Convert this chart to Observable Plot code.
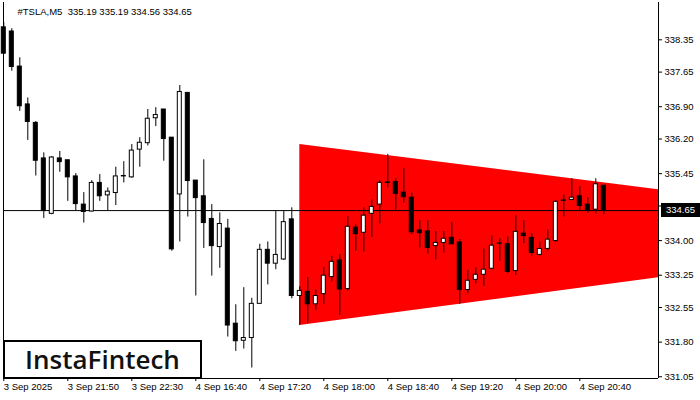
<!DOCTYPE html>
<html>
<head>
<meta charset="utf-8">
<script src="https://cdn.jsdelivr.net/npm/d3@7"></script>
<script src="https://cdn.jsdelivr.net/npm/@observablehq/plot@0.6"></script>
<style>
  html, body { margin: 0; padding: 0; background: white; }
  #wrap { position: relative; width: 700px; height: 400px; overflow: hidden; }
  #logo { position: absolute; left: 3px; top: 340px; width: 199px; height: 39px; box-sizing: border-box;
          border: 2px solid black; background: white; display: flex; align-items: center; justify-content: center;
          font: 600 26px "Open Sans", sans-serif; color: #111; padding-bottom: 2px; }
  #pricebox { position: absolute; left: 661px; width: 39px; height: 14px; background: black; color: white;
          font: 9.5px "Liberation Sans", sans-serif; line-height: 14px; text-align: center; }
</style>
</head>
<body>
<div id="wrap"></div>
<script>
const symbolTitle = "#TSLA,M5\u00a0\u00a0335.19 335.19 334.56 334.65";
const brand = "InstaFintech";
const lastPrice = 334.65;

const opens  = [338.62,338.53,337.77,336.95,336.55,335.78,334.58,335.78,335.74,335.39,334.78,334.63,335.25,334.98,335.03,335.39,335.37,335.97,336.11,336.65,336.84,336.23,335.00,337.20,335.30,334.96,334.47,333.86,334.26,332.20,331.83,331.89,332.63,333.80,333.50,333.59,334.46,332.80,332.89,332.62,332.84,333.21,333.57,332.95,334.28,334.17,334.58,334.78,335.26,335.27,335.04,334.93,334.22,334.20,333.88,333.95,334.06,333.96,332.93,333.15,333.26,333.39,333.93,333.92,333.34,334.15,334.06,333.69,333.82,333.99,334.86,334.88,334.96,334.78,334.67,335.19];
const highs  = [338.72,338.59,337.96,337.09,336.58,335.90,335.82,335.93,335.74,335.45,335.04,335.30,335.43,335.14,335.59,335.71,336.08,336.23,336.84,336.88,336.84,336.23,337.36,337.20,335.30,335.75,334.78,334.60,334.46,332.61,332.98,332.75,333.92,333.97,334.65,334.65,334.71,333.00,333.20,332.93,333.42,333.66,333.70,334.52,334.35,334.71,334.88,335.30,335.87,335.34,335.56,335.03,334.43,334.43,334.20,334.20,334.39,334.02,333.35,333.41,333.82,334.10,334.04,334.08,334.54,334.43,334.15,333.97,334.23,334.87,334.99,335.34,335.17,334.93,335.34,335.19];
const lows   = [338.03,337.67,336.80,336.17,335.40,334.48,334.56,335.48,334.85,334.65,334.38,334.62,334.85,334.65,334.76,335.25,335.35,335.59,336.05,336.47,335.72,333.77,333.97,334.51,332.80,333.83,333.23,333.40,331.91,331.60,331.65,331.24,332.63,333.04,333.37,333.57,332.74,332.16,332.21,332.49,332.62,333.10,332.38,332.90,333.77,333.75,334.07,334.36,335.14,334.65,334.81,334.13,333.84,333.71,333.58,333.73,333.92,332.62,332.85,333.06,333.01,333.37,333.55,333.28,333.24,333.93,333.66,333.66,333.77,333.96,334.51,334.87,334.65,334.59,334.58,334.56];
const closes = [338.05,337.76,336.91,336.57,335.73,334.64,335.80,335.70,335.37,334.79,334.62,335.25,334.96,335.06,335.39,335.40,335.95,336.12,336.64,336.72,336.20,333.81,337.22,335.29,334.92,334.38,333.88,334.36,332.16,331.82,331.89,332.63,333.80,333.50,333.69,334.40,332.80,332.91,332.62,332.80,333.24,333.54,332.94,334.30,334.14,334.54,334.73,335.25,335.25,335.01,334.94,334.18,334.16,333.84,333.95,334.04,333.92,332.93,333.13,333.26,333.37,333.89,333.94,333.32,334.19,334.10,333.73,333.82,334.02,334.84,334.87,334.93,334.75,334.65,335.22,334.65];

// Symmetrical triangle (bar index, upper and lower border prices)
const triIndex = [37, 82];
const triUpper = [336.08, 335.10];
const triLower = [332.16, 333.20];

const yTicks = [338.35, 337.65, 336.90, 336.20, 335.45, 334.75, 334.00, 333.25, 332.55, 331.80, 331.05];
const yHiddenLabel = 334.75; // covered by the current-price box in the reference
const xTickIndex = [0, 8, 16, 24, 32, 40, 48, 56, 64, 72];
const xTickLabels = ["3 Sep 2025", "3 Sep 21:50", "3 Sep 22:30", "4 Sep 16:40", "4 Sep 17:20", "4 Sep 18:00", "4 Sep 18:40", "4 Sep 19:20", "4 Sep 20:00", "4 Sep 20:40"];

const bars = opens.map((o, i) => ({i, open: o, high: highs[i], low: lows[i], close: closes[i]}));
const tri = triIndex.map((x, k) => ({i: x, hi: triUpper[k], lo: triLower[k]}));
const labelOf = new Map(xTickIndex.map((v, k) => [v, xTickLabels[k]]));

const xDomain = [-0.0375, 81.8375];
const yDomain = [331.0125, 339.158];

const chart = Plot.plot({
  width: 700,
  height: 400,
  marginLeft: 3,
  marginRight: 42,
  marginTop: 2,
  marginBottom: 22,
  style: {fontFamily: "Liberation Sans, sans-serif", fontSize: "9.5px", background: "white", color: "black"},
  x: {domain: xDomain, axis: null},
  y: {domain: yDomain, axis: null},
  marks: [
    Plot.areaY(tri, {x: "i", y1: "lo", y2: "hi", fill: "#ff0000", clip: true}),
    Plot.ruleY([lastPrice], {stroke: "black", strokeWidth: 1}),
    Plot.ruleX(bars, {x: "i", y1: "low", y2: "high", stroke: "black", strokeWidth: 1}),
    Plot.rect(bars, {
      x1: d => d.i - 0.25, x2: d => d.i + 0.25, y1: "open", y2: "close",
      fill: d => d.close >= d.open ? "white" : "black", stroke: "black", strokeWidth: 1
    }),
    Plot.ruleX([xDomain[0]], {stroke: "black"}),
    Plot.ruleX([xDomain[1]], {stroke: "black"}),
    Plot.ruleY([yDomain[0]], {stroke: "black"}),
    Plot.axisY({anchor: "right", label: null, ticks: yTicks, tickFormat: d => d === yHiddenLabel ? "" : d.toFixed(2), tickSize: 3, tickPadding: 3}),
    Plot.axisX({anchor: "bottom", label: null, ticks: xTickIndex, tickFormat: d => labelOf.get(d), tickSize: 3, tickPadding: 2, textAnchor: "start"}),
    Plot.text([symbolTitle], {frameAnchor: "top-left", dx: 14, dy: 6, lineAnchor: "top", textAnchor: "start", fill: "black"})
  ]
});

const wrap = document.getElementById("wrap");
wrap.appendChild(chart);

const logo = document.createElement("div");
logo.id = "logo";
logo.textContent = brand;
wrap.appendChild(logo);

const pb = document.createElement("div");
pb.id = "pricebox";
pb.textContent = lastPrice.toFixed(2);
pb.style.top = (chart.scale("y").apply(lastPrice) - 7) + "px";
wrap.appendChild(pb);
</script>
</body>
</html>
